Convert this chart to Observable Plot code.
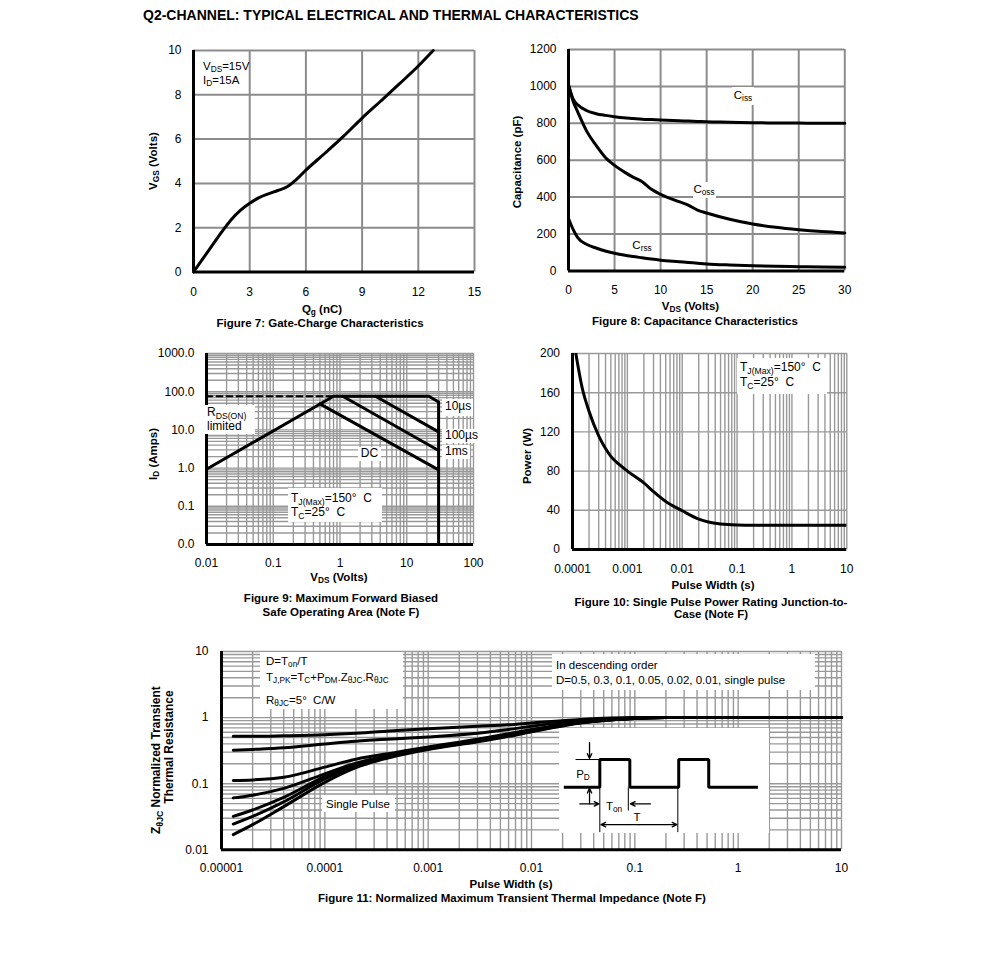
<!DOCTYPE html>
<html><head><meta charset="utf-8">
<script src="https://cdn.jsdelivr.net/npm/d3@7"></script>
<script src="https://cdn.jsdelivr.net/npm/@observablehq/plot@0.6"></script>
<style>
html,body{margin:0;padding:0;background:#fff;}
#page{position:relative;width:991px;height:975px;overflow:hidden;background:#fff;font-family:"Liberation Sans",Arial,Helvetica,sans-serif;color:#000;}
.t{position:absolute;white-space:nowrap;line-height:1.1;}
.box{position:absolute;background:#fff;}
.sb{font-size:72%;position:relative;top:0.3em;line-height:0;}
</style></head><body><div id="page"></div>
<script>
// ===== Figure 7 : gate charge =====
const fig7Qg  = [0, 1, 1.5, 2, 2.5, 3, 3.5, 4, 4.5, 5, 5.5, 6, 7, 8, 9, 10, 11, 12, 12.8];
const fig7Vgs = [0, 1.2, 1.8, 2.35, 2.78, 3.1, 3.36, 3.53, 3.68, 3.85, 4.18, 4.6, 5.35, 6.12, 6.95, 7.72, 8.5, 9.3, 10];
const fig7XTicks = [0, 3, 6, 9, 12, 15];
const fig7YTicks = [0, 2, 4, 6, 8, 10];

// ===== Figure 8 : capacitance =====
const fig8Vds  = [0, 0.5, 1, 2, 3, 4, 5, 6, 7, 8, 9, 10, 12, 13, 14, 15, 17.5, 20, 22.5, 25, 27.5, 30];
const fig8Ciss = [1010, 932, 900, 868, 852, 843, 836, 830, 826, 822, 820, 818, 814, 812, 810, 808, 806, 803, 802, 801, 800, 800];
const fig8Coss = [1007, 920, 862, 755, 680, 615, 572, 538, 508, 483, 442, 415, 375, 357, 330, 314, 280, 254, 236, 223, 213, 206];
const fig8Crss = [284, 225, 180, 143, 124, 108, 96, 86, 78, 71, 64, 58, 50, 46, 42, 38, 32, 28, 25, 23, 21, 20];
const fig8XTicks = [0, 5, 10, 15, 20, 25, 30];
const fig8YTicks = [0, 200, 400, 600, 800, 1000, 1200];

// ===== Figure 9 : safe operating area =====
const fig9Env10usV = [0.01, 0.8, 21.5, 30, 30];
const fig9Env10usI = [0.93, 76, 76, 54, 0.01];
const fig9RdsDashV = [0.01, 0.8];
const fig9RdsDashI = [76, 76];
const fig9L100usV = [3.4, 30];
const fig9L100usI = [76, 8.9];
const fig9L1msV = [1.1, 30];
const fig9L1msI = [76, 2.9];
const fig9DcV = [0.5, 30];
const fig9DcI = [48, 0.9];
const fig9XTicks = [0.01, 0.1, 1, 10, 100];
const fig9YTicks = [0.01, 0.1, 1, 10, 100, 1000];
const fig9YLabels = ["0.0", "0.1", "1.0", "10.0", "100.0", "1000.0"];

// ===== Figure 10 : single pulse power =====
const fig10Pw = [1.15e-4, 1.5e-4, 2e-4, 3e-4, 4e-4, 5e-4, 7e-4, 1e-3, 2e-3, 3e-3, 5e-3, 1e-2, 2e-2, 3e-2, 5e-2, 0.1, 0.2, 1, 10];
const fig10P  = [200, 165, 141, 116, 103, 95, 87, 80, 68, 59, 49, 39.5, 31, 28, 26, 25, 24.8, 24.8, 24.8];
const fig10XTicks = [0.0001, 0.001, 0.01, 0.1, 1, 10];
const fig10XLabels = ["0.0001", "0.001", "0.01", "0.1", "1", "10"];
const fig10YTicks = [0, 40, 80, 120, 160, 200];

// ===== Figure 11 : transient thermal impedance =====
const fig11Pw = [1.3e-5, 2e-5, 4e-5, 1e-4, 2e-4, 5e-4, 1e-3, 3e-3, 6e-3, 1e-2, 3e-2, 0.1, 0.2, 10];
const fig11D05   = [0.52, 0.52, 0.53, 0.55, 0.58, 0.64, 0.68, 0.74, 0.78, 0.83, 0.94, 1.0, 1.0, 1.0];
const fig11D03   = [0.32, 0.33, 0.35, 0.40, 0.44, 0.48, 0.51, 0.58, 0.66, 0.74, 0.90, 0.99, 1.0, 1.0];
const fig11D01   = [0.112, 0.114, 0.125, 0.178, 0.235, 0.30, 0.36, 0.47, 0.57, 0.66, 0.86, 0.98, 1.0, 1.0];
const fig11D005  = [0.061, 0.067, 0.085, 0.141, 0.205, 0.285, 0.35, 0.46, 0.55, 0.64, 0.85, 0.98, 1.0, 1.0];
const fig11D002  = [0.032, 0.040, 0.062, 0.128, 0.19, 0.278, 0.34, 0.45, 0.54, 0.63, 0.84, 0.97, 1.0, 1.0];
const fig11D001  = [0.0245, 0.032, 0.053, 0.118, 0.183, 0.272, 0.335, 0.44, 0.53, 0.62, 0.84, 0.97, 1.0, 1.0];
const fig11Single = [0.017, 0.024, 0.045, 0.105, 0.175, 0.265, 0.33, 0.43, 0.52, 0.61, 0.83, 0.97, 1.0, 1.0];
const fig11Series = ["D=0.5", "D=0.3", "D=0.1", "D=0.05", "D=0.02", "D=0.01", "single pulse"];
const fig11XTicks = [0.00001, 0.0001, 0.001, 0.01, 0.1, 1, 10];
const fig11XLabels = ["0.00001", "0.0001", "0.001", "0.01", "0.1", "1", "10"];
const fig11YTicks = [0.01, 0.1, 1, 10];
const fig11YLabels = ["0.01", "0.1", "1", "10"];

// pulse schematic (units: T_on along x, P_D along y)
const pulseT = [-1.2, 0, 0, 1, 1, 2.63, 2.63, 3.63, 3.63, 5.27];
const pulseP = [0, 0, 1, 1, 0, 0, 1, 1, 0, 0];
const pulseGuides = [
  {x1: -0.81, y1: 1, x2: 0, y2: 1},
  {x1: 0, y1: 0, x2: 0, y2: -1.62},
  {x1: 0.95, y1: 0, x2: 0.95, y2: -0.84},
  {x1: 2.6, y1: 0, x2: 2.6, y2: -1.62}
];
const pulseArrows = [
  {x1: -0.343, y1: 1.62, x2: -0.343, y2: 1.04},
  {x1: -0.343, y1: -0.6, x2: -0.343, y2: -0.04},
  {x1: -0.667, y1: -0.6, x2: -0.03, y2: -0.6},
  {x1: 1.69, y1: -0.6, x2: 1.02, y2: -0.6},
  {x1: 1.3, y1: -1.35, x2: 0.04, y2: -1.35},
  {x1: 1.3, y1: -1.35, x2: 2.57, y2: -1.35}
];

// ---------------------------------------------------------------
const page = document.getElementById("page");
const FONT = '"Liberation Sans", Arial, Helvetica, sans-serif';
const baseStyle = {fontFamily: FONT, fontSize: "12px", color: "#000", background: "transparent", overflow: "visible"};
const GRID = {stroke: "#999", strokeOpacity: 1, strokeWidth: 1.4};
const GRID_B = {stroke: "#8c8c8c", strokeOpacity: 1, strokeWidth: 2};
const CURVE = {stroke: "#000", strokeWidth: 3, curve: "monotone-x"};
const AXLINE = {stroke: "#000", strokeWidth: 3};
const plain = d => String(d);

function logGrid(lo, hi) {
  const out = [];
  for (let e = lo; e < hi; e++) for (let k = 1; k < 10; k++) out.push(+(k * Math.pow(10, e)).toPrecision(3));
  out.push(Math.pow(10, hi));
  return out;
}
function place(svg, left, top) {
  svg.style.position = "absolute";
  svg.style.left = left + "px";
  svg.style.top = top + "px";
  page.appendChild(svg);
}
function txt(html, x, y, o = {}) {
  const d = document.createElement("div");
  d.className = "t";
  d.innerHTML = html;
  d.style.left = x + "px";
  d.style.top = y + "px";
  d.style.fontSize = (o.size || 11.5) + "px";
  if (o.bold) d.style.fontWeight = "bold";
  let tr = "";
  const a = o.anchor || "start";
  if (a === "middle") tr = "translate(-50%,-50%)";
  else if (a === "end") tr = "translate(-100%,-50%)";
  else tr = "translate(0,-50%)";
  if (o.rotate) tr += " rotate(" + o.rotate + "deg)";
  d.style.transform = tr;
  page.appendChild(d);
  return d;
}
function box(x, y, w, h) {
  const d = document.createElement("div");
  d.className = "box";
  d.style.left = x + "px"; d.style.top = y + "px";
  d.style.width = w + "px"; d.style.height = h + "px";
  page.appendChild(d);
}
const sb = s => '<span class="sb">' + s + '</span>';

// Title
txt("Q2-CHANNEL: TYPICAL ELECTRICAL AND THERMAL CHARACTERISTICS", 143, 16, {size: 14, bold: true});

// ---------------- Figure 7 ----------------
place(Plot.plot({
  width: 356, height: 261.5, marginLeft: 55, marginRight: 20, marginTop: 10, marginBottom: 30,
  style: baseStyle,
  x: {domain: [0, 15]}, y: {domain: [0, 10]},
  marks: [
    Plot.gridX(fig7XTicks.slice(1), GRID_B),
    Plot.gridY(fig7YTicks.slice(1), GRID_B),
    Plot.ruleX([0], AXLINE),
    Plot.ruleY([0], AXLINE),
    Plot.axisX(fig7XTicks, {tickSize: 0, tickPadding: 15, label: null, fontSize: 12, tickFormat: plain}),
    Plot.axisY(fig7YTicks, {tickSize: 0, tickPadding: 12, label: null, fontSize: 12, tickFormat: plain}),
    Plot.line(fig7Qg, {x: fig7Qg, y: fig7Vgs, ...CURVE})
  ]
}), 138, 40);
txt("V" + sb("DS") + "=15V", 203, 66);
txt("I" + sb("D") + "=15A", 203, 80);
txt("Q" + sb("g") + " (nC)", 322, 308.5, {anchor: "middle", bold: true});
txt("Figure 7: Gate-Charge Characteristics", 320, 322.5, {anchor: "middle", bold: true});
txt("V" + sb("GS") + " (Volts)", 153, 161, {anchor: "middle", bold: true, rotate: -90});

// ---------------- Figure 8 ----------------
const fig8Rows = fig8Vds.map((v, i) => ({v, ciss: fig8Ciss[i], coss: fig8Coss[i], crss: fig8Crss[i]}));
place(Plot.plot({
  width: 356.3, height: 261.4, marginLeft: 65, marginRight: 15, marginTop: 10, marginBottom: 30,
  style: baseStyle,
  x: {domain: [0, 30]}, y: {domain: [0, 1200]},
  marks: [
    Plot.gridX(fig8XTicks.slice(1), GRID_B),
    Plot.gridY(fig8YTicks.slice(1), GRID_B),
    Plot.ruleX([0], AXLINE),
    Plot.ruleY([0], AXLINE),
    Plot.axisX(fig8XTicks, {tickSize: 0, tickPadding: 15, label: null, fontSize: 12, tickFormat: plain}),
    Plot.axisY(fig8YTicks, {tickSize: 0, tickPadding: 12, label: null, fontSize: 12, tickFormat: plain}),
    Plot.line(fig8Rows, {x: "v", y: "ciss", ...CURVE}),
    Plot.line(fig8Rows, {x: "v", y: "coss", ...CURVE}),
    Plot.line(fig8Rows, {x: "v", y: "crss", ...CURVE})
  ]
}), 502.7, 39.3);
box(732, 87, 22, 18); txt("C" + sb("iss"), 743, 95, {anchor: "middle"});
box(693, 182, 23, 16); txt("C" + sb("oss"), 704, 189, {anchor: "middle"});
box(631, 238, 22, 15); txt("C" + sb("rss"), 642, 245, {anchor: "middle"});
txt("V" + sb("DS") + " (Volts)", 690.5, 305.5, {anchor: "middle", bold: true});
txt("Figure 8: Capacitance Characteristics", 695, 320.5, {anchor: "middle", bold: true});
txt("Capacitance (pF)", 517, 162, {anchor: "middle", bold: true, rotate: -90});

// ---------------- Figure 9 ----------------
const toRows = (xs, ys) => xs.map((x, i) => ({x, y: ys[i]}));
place(Plot.plot({
  width: 347, height: 231, marginLeft: 60, marginRight: 20, marginTop: 10, marginBottom: 30,
  style: baseStyle,
  x: {type: "log", domain: [0.01, 100]}, y: {type: "log", domain: [0.01, 1000]},
  marks: [
    Plot.gridX(logGrid(-2, 2).slice(1), GRID),
    Plot.gridY(logGrid(-2, 3).slice(1), GRID),
    Plot.ruleX([0.01], AXLINE),
    Plot.ruleY([0.01], AXLINE),
    Plot.axisX(fig9XTicks, {tickSize: 0, tickPadding: 13.5, label: null, fontSize: 12, tickFormat: plain}),
    Plot.axisY(fig9YTicks, {tickSize: 0, tickPadding: 12, label: null, fontSize: 12, tickFormat: d => fig9YLabels[fig9YTicks.indexOf(d)]}),
    Plot.line(toRows(fig9RdsDashV, fig9RdsDashI), {x: "x", y: "y", stroke: "#000", strokeWidth: 2, strokeDasharray: "6,4"}),
    Plot.line(toRows(fig9Env10usV, fig9Env10usI), {x: "x", y: "y", stroke: "#000", strokeWidth: 3}),
    Plot.line(toRows(fig9L100usV, fig9L100usI), {x: "x", y: "y", stroke: "#000", strokeWidth: 3}),
    Plot.line(toRows(fig9L1msV, fig9L1msI), {x: "x", y: "y", stroke: "#000", strokeWidth: 3}),
    Plot.line(toRows(fig9DcV, fig9DcI), {x: "x", y: "y", stroke: "#000", strokeWidth: 3})
  ]
}), 145.7, 343.3);
box(205, 405, 50, 29);
txt("R" + sb("DS(ON)"), 207, 413, {size: 12});
txt("limited", 207, 427, {size: 12});
box(442, 399, 31, 17); txt("10µs", 445, 407, {size: 12});
box(442, 429, 33, 14); txt("100µs", 445, 436, {size: 12});
box(442, 445, 28, 14); txt("1ms", 445, 452, {size: 12});
box(358, 447, 23, 14); txt("DC", 369.5, 454, {anchor: "middle", size: 12});
box(288, 488, 94, 34);
txt("T" + sb("J(Max)") + "=150°&nbsp; C", 291, 499, {size: 12});
txt("T" + sb("C") + "=25°&nbsp; C", 291, 513, {size: 12});
txt("V" + sb("DS") + " (Volts)", 339, 576.5, {anchor: "middle", bold: true});
txt("Figure 9: Maximum Forward Biased", 341, 598, {anchor: "middle", bold: true});
txt("Safe Operating Area (Note F)", 341, 612, {anchor: "middle", bold: true});
txt("I" + sb("D") + " (Amps)", 153, 454, {anchor: "middle", bold: true, rotate: -90});

// ---------------- Figure 10 ----------------
place(Plot.plot({
  width: 344.3, height: 236, marginLeft: 50, marginRight: 20, marginTop: 10, marginBottom: 30,
  style: baseStyle,
  x: {type: "log", domain: [0.0001, 10]}, y: {domain: [0, 200]},
  marks: [
    Plot.gridX(logGrid(-4, 1).slice(1), GRID),
    Plot.gridY(fig10YTicks.slice(1), GRID),
    Plot.ruleX([0.0001], AXLINE),
    Plot.ruleY([0], AXLINE),
    Plot.axisX(fig10XTicks, {tickSize: 0, tickPadding: 15, label: null, fontSize: 12, tickFormat: d => fig10XLabels[fig10XTicks.indexOf(d)]}),
    Plot.axisY(fig10YTicks, {tickSize: 0, tickPadding: 12.5, label: null, fontSize: 12, tickFormat: plain}),
    Plot.line(toRows(fig10Pw, fig10P), {x: "x", y: "y", ...CURVE, clip: true})
  ]
}), 521.7, 343.3);
box(737, 358, 90, 36);
txt("T" + sb("J(Max)") + "=150°&nbsp; C", 740, 368, {size: 12});
txt("T" + sb("C") + "=25°&nbsp; C", 740, 383, {size: 12});
txt("Pulse Width (s)", 713, 585, {anchor: "middle", bold: true});
txt("Figure 10: Single Pulse Power Rating Junction-to-", 711, 601.5, {anchor: "middle", bold: true});
txt("Case (Note F)", 711, 613.5, {anchor: "middle", bold: true});
txt("Power (W)", 526.5, 456, {anchor: "middle", bold: true, rotate: -90});

// ---------------- Figure 11 ----------------
const fig11All = [fig11D05, fig11D03, fig11D01, fig11D005, fig11D002, fig11D001, fig11Single];
const fig11Rows = fig11All.flatMap((ys, s) => ys.map((y, i) => ({series: fig11Series[s], x: fig11Pw[i], y})));
place(Plot.plot({
  width: 695, height: 238.3, marginLeft: 50, marginRight: 25, marginTop: 10, marginBottom: 30,
  style: baseStyle,
  x: {type: "log", domain: [0.00001, 10]}, y: {type: "log", domain: [0.01, 10]},
  marks: [
    Plot.gridX(logGrid(-5, 1).slice(1), GRID),
    Plot.gridY(logGrid(-2, 1).slice(1), GRID),
    Plot.ruleX([0.00001], AXLINE),
    Plot.ruleY([0.01], AXLINE),
    Plot.axisX(fig11XTicks, {tickSize: 0, tickPadding: 14, label: null, fontSize: 12, tickFormat: d => fig11XLabels[fig11XTicks.indexOf(d)]}),
    Plot.axisY(fig11YTicks, {tickSize: 0, tickPadding: 13, label: null, fontSize: 12, tickFormat: d => fig11YLabels[fig11YTicks.indexOf(d)]}),
    Plot.line(fig11Rows, {x: "x", y: "y", z: "series", ...CURVE})
  ]
}), 171, 641);
box(260, 652, 143, 57);
txt("D=T" + sb("on") + "/T", 266, 661);
txt("T" + sb("J,PK") + "=T" + sb("C") + "+P" + sb("DM") + ".Z" + sb("θJC") + ".R" + sb("θJC"), 266, 677);
txt("R" + sb("θJC") + "=5°&nbsp; C/W", 266, 700);
box(552, 654, 263, 36);
txt("In descending order", 556, 665);
txt("D=0.5, 0.3, 0.1, 0.05, 0.02, 0.01, single pulse", 556, 680);
box(322, 795, 73, 17);
txt("Single Pulse", 326, 803.5);
// pulse schematic inset
place(Plot.plot({
  width: 210, height: 105, marginLeft: 0, marginRight: 0, marginTop: 0, marginBottom: 0,
  style: {...baseStyle, background: "#fff"},
  x: {domain: [-1.344, 5.656], axis: null}, y: {domain: [-1.67, 2.12], axis: null},
  marks: [
    Plot.link(pulseGuides, {x1: "x1", y1: "y1", x2: "x2", y2: "y2", stroke: "#000", strokeWidth: 1}),
    Plot.line(toRows(pulseT, pulseP), {x: "x", y: "y", stroke: "#000", strokeWidth: 3, strokeLinejoin: "miter", strokeLinecap: "butt"}),
    Plot.arrow(pulseArrows, {x1: "x1", y1: "y1", x2: "x2", y2: "y2", stroke: "#000", strokeWidth: 1.3, headLength: 6, headAngle: 50})
  ]
}), 559, 728);
txt("P" + sb("D"), 583, 774, {anchor: "middle"});
txt("T" + sb("on"), 614, 806, {anchor: "middle"});
txt("T", 637, 817, {anchor: "middle"});
txt("Pulse Width (s)", 511, 884, {anchor: "middle", bold: true});
txt("Figure 11: Normalized Maximum Transient Thermal Impedance (Note F)", 512, 898, {anchor: "middle", bold: true});
txt("Z" + sb("θJC") + " Normalized Transient", 157, 760, {anchor: "middle", bold: true, rotate: -90, size: 12});
txt("Thermal Resistance", 170, 747, {anchor: "middle", bold: true, rotate: -90, size: 12});
</script></body></html>
